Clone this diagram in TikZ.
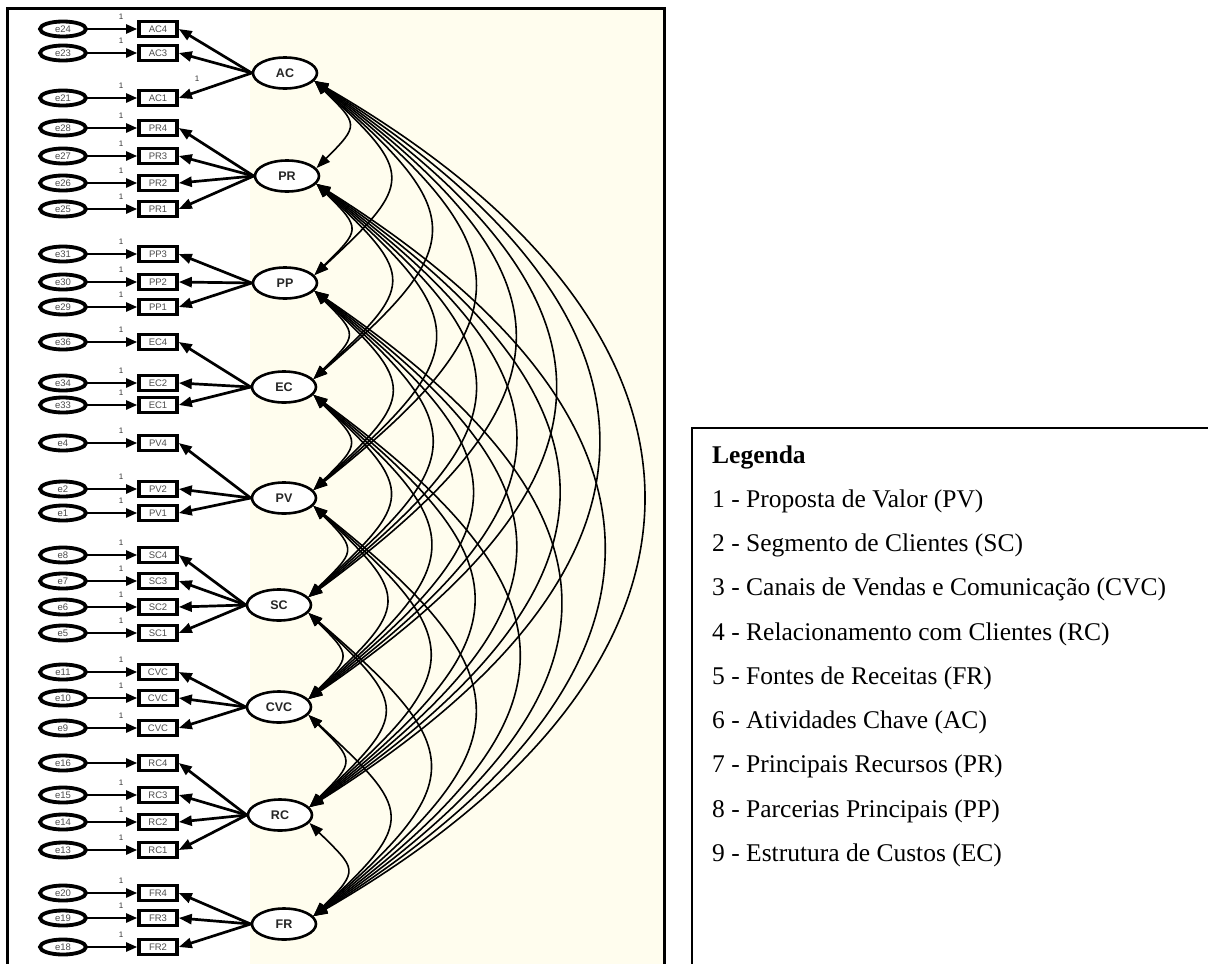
\documentclass[tikz,border=0pt]{standalone}
\usepackage{fontspec}
\setmainfont{Liberation Serif}
\newfontfamily\sansf{Liberation Sans}
\usetikzlibrary{shapes.geometric,arrows.meta}
\definecolor{cream}{RGB}{255,253,238}
\begin{document}
\begin{tikzpicture}[x=1pt,y=1pt,
  err/.style={ellipse,draw,line width=3.8pt,fill=white,minimum width=46pt,minimum height=15pt,inner sep=0pt,font=\sansf\fontsize{9.5}{9.5}\selectfont,text=black!70},
  ind/.style={rectangle,draw,line width=3.6pt,fill=white,minimum width=38pt,minimum height=15pt,inner sep=0pt,font=\sansf\fontsize{9.5}{9.5}\selectfont,text=black!70},
  lat/.style={ellipse,draw,line width=2.6pt,fill=white,minimum width=64pt,minimum height=31pt,inner sep=0pt,font=\sansf\bfseries\fontsize{12.5}{12.5}\selectfont,text=black!85},
  errarr/.style={line width=2.3pt,-{Triangle[length=11pt,width=9pt]}},
  load/.style={line width=2.7pt,-{Triangle[length=13pt,width=10pt]}},
  cov/.style={line width=1.6pt,{Triangle[length=14pt,width=10pt]}-{Triangle[length=14pt,width=10pt]}},
  fixlab/.style={font=\sansf\fontsize{8}{8}\selectfont,text=black!80,inner sep=0pt},
  legtxt/.style={anchor=base west,inner sep=0pt,font=\fontsize{25.5}{30}\selectfont}
]
\useasboundingbox (0,0) rectangle (1208,-964);
% page and model panel
\fill[white] (0,0) rectangle (1208,-964);
\fill[cream] (250,-8) rectangle (664,-964);
\draw[line width=3pt] (7,-964) -- (7,-8) -- (664,-8) -- (664,-964);

% latent constructs
\def\latY{{73,176,283,387,498,605,707,815,924}}
\foreach \nm/\x/\y [count=\k from 0] in {AC/285/73, PR/287/176, PP/285/283, EC/284/387, PV/284/498, SC/279/605, CVC/279/707, RC/280/815, FR/284/924}
  \node[lat] (L\k) at (\x,-\y) {\nm};

% indicators with their error terms
\foreach \y/\e/\b/\l/\o [count=\n] in {
  29/e24/AC4/0/1, 53/e23/AC3/0/1, 98/e21/AC1/0/1,
  128/e28/PR4/1/1, 156/e27/PR3/1/1, 183/e26/PR2/1/1, 209/e25/PR1/1/1,
  254/e31/PP3/2/1, 282/e30/PP2/2/1, 307/e29/PP1/2/1,
  342/e36/EC4/3/1, 383/e34/EC2/3/1, 405/e33/EC1/3/1,
  443/e4/PV4/4/1, 489/e2/PV2/4/1, 513/e1/PV1/4/1,
  555/e8/SC4/5/1, 581/e7/SC3/5/1, 607/e6/SC2/5/1, 633/e5/SC1/5/1,
  672/e11/CVC/6/1, 698/e10/CVC/6/1, 728/e9/CVC/6/1,
  763/e16/RC4/7/0, 795/e15/RC3/7/1, 822/e14/RC2/7/1, 850/e13/RC1/7/1,
  893/e20/FR4/8/1, 918/e19/FR3/8/1, 947/e18/FR2/8/1}{
  \node[err] (e\n) at (63,-\y) {\e};
  \node[ind] (x\n) at (158,-\y) {\b};
  \draw[errarr] (e\n) -- (x\n);
  \draw[load] (L\l.west) -- (x\n.east);
  \ifnum\o=1 \node[fixlab] (f\n) at (121,-\y+12) {1};\fi
}
\node[fixlab] (fAC) at (197,-79) {1};

% covariances between every pair of constructs
\foreach \i in {0,...,7}{
  \pgfmathtruncatemacro\first{\i+1}
  \foreach \j in {\first,...,8}{
    \pgfmathsetmacro\dd{\latY[\j]-\latY[\i]}
    \pgfmathsetmacro\ang{45-15*(\dd-100)/750}
    \pgfmathsetmacro\L{(0.395*\dd-8)/(0.75*cos(\ang))}
    \draw[cov] (L\i.-15) .. controls +(-\ang:\L) and +(\ang:\L) .. (L\j.15);
  }
}

% legend
\draw[line width=2.5pt] (692,-964) -- (692,-428) -- (1208,-428);
\node[legtxt,font=\fontsize{25.5}{30}\selectfont\bfseries] (leg0) at (712,-463) {Legenda};
\foreach \t [count=\k] in {Proposta de Valor (PV), Segmento de Clientes (SC), Canais de Vendas e Comunicação (CVC), Relacionamento com Clientes (RC), Fontes de Receitas (FR), Atividades Chave (AC), Principais Recursos (PR), Parcerias Principais (PP), Estrutura de Custos (EC)}
  \node[legtxt] (leg\k) at (712,-463-44.25*\k) {\k{} - \t};
\end{tikzpicture}
\end{document}
